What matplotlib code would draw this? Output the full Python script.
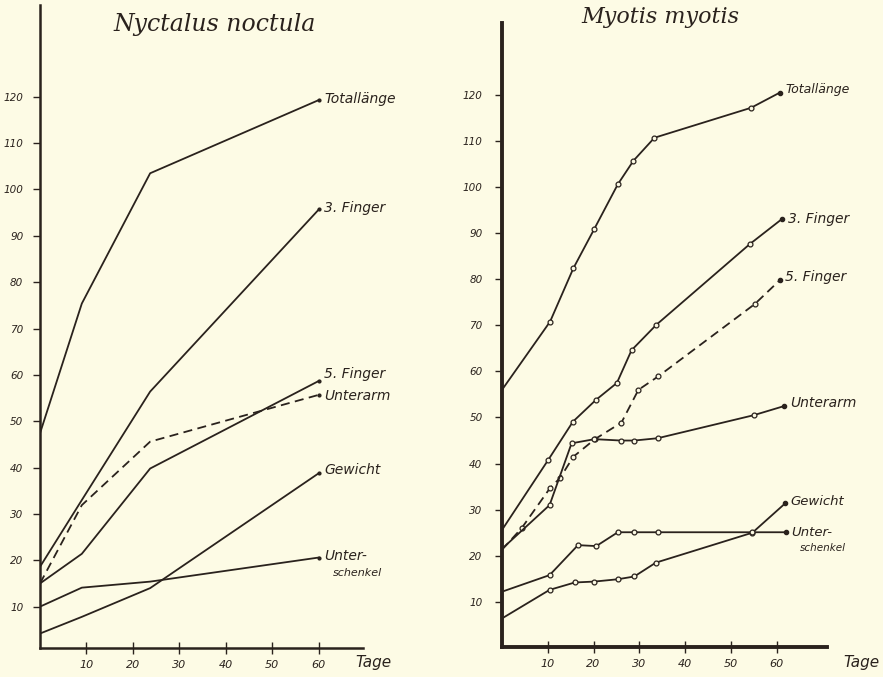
import matplotlib
matplotlib.use("Agg")
import matplotlib.pyplot as plt

# ---------------- data ----------------
# Nyctalus noctula (left panel)
nyc_days = [0, 9, 23.7, 60]
nyc_totallaenge = [47.4, 75.4, 103.5, 119.3]
nyc_finger3 = [18.6, 33.0, 56.4, 95.7]
nyc_finger5 = [15.0, 21.4, 39.8, 58.7]
nyc_unterarm = [15.0, 31.9, 45.6, 55.7]
nyc_gewicht = [4.2, 7.8, 14.0, 38.8]
nyc_unterschenkel = [10.0, 14.1, 15.4, 20.6]

# Myotis myotis (right panel)
myo_total_days = [0, 10.5, 15.6, 20.1, 25.3, 28.7, 33.3, 54.4, 60.7]
myo_totallaenge = [56.0, 70.8, 82.4, 90.8, 100.6, 105.7, 110.7, 117.2, 120.5]
myo_f3_days = [0, 10.1, 15.5, 20.5, 25.1, 28.3, 33.7, 54.1, 61.2]
myo_finger3 = [25.6, 40.8, 49.1, 53.8, 57.5, 64.6, 70.1, 87.6, 93.1]
myo_f5_days = [0, 4.3, 10.5, 12.7, 15.6, 20.3, 26.1, 29.8, 34.1, 55.2, 60.7]
myo_finger5 = [21.3, 26.0, 34.7, 36.9, 41.5, 45.3, 48.9, 56.0, 58.9, 74.6, 79.8]
myo_arm_days = [0, 10.4, 15.2, 20.2, 26.0, 28.9, 34.0, 55.0, 61.7]
myo_unterarm = [21.5, 31.0, 44.4, 45.3, 45.0, 45.0, 45.5, 50.5, 52.5]
myo_gew_days = [0, 10.4, 15.9, 20.2, 25.3, 28.9, 33.6, 54.7, 61.9]
myo_gewicht = [6.4, 12.6, 14.2, 14.4, 14.9, 15.5, 18.5, 25.0, 31.4]
myo_us_days = [0, 10.4, 16.6, 20.6, 25.3, 28.9, 34.0, 54.7, 62.0]
myo_unterschenkel = [12.2, 15.8, 22.3, 22.1, 25.1, 25.1, 25.1, 25.1, 25.1]

y_ticks = [10, 20, 30, 40, 50, 60, 70, 80, 90, 100, 110, 120]
x_ticks = [10, 20, 30, 40, 50, 60]

titles = ["Nyctalus noctula", "Myotis myotis"]

# ---------------- style ----------------
BG = "#fdfbe5"
INK = "#2a221d"
W, H = 883, 677

fig = plt.figure(figsize=(W / 100, H / 100), dpi=100, facecolor=BG)

def px_axes(x0, y_top, x1, y_bottom):
    return fig.add_axes([x0 / W, (H - y_bottom) / H, (x1 - x0) / W, (y_bottom - y_top) / H])

hand = dict(family="DejaVu Sans", style="italic", color=INK)
script = dict(family="DejaVu Serif", style="italic", color=INK)

def setup(ax, xlim, ylim, spine_w, ypad):
    ax.set_facecolor(BG)
    ax.patch.set_alpha(0)
    ax.set_xlim(*xlim)
    ax.set_ylim(*ylim)
    for s in ["top", "right"]:
        ax.spines[s].set_visible(False)
    for s in ["left", "bottom"]:
        ax.spines[s].set_color(INK)
        ax.spines[s].set_linewidth(spine_w)
    ax.set_yticks(y_ticks)
    ax.set_yticklabels([str(v) for v in y_ticks], fontsize=7.5, **hand)
    ax.set_xticks(x_ticks)
    ax.set_xticklabels([str(v) for v in x_ticks], fontsize=8, **hand)
    ax.tick_params(axis="y", direction="out", length=5, width=1, color=INK, pad=ypad)
    ax.tick_params(axis="x", direction="inout", length=9, width=1, color=INK, pad=4)

lw = 1.3

def label(ax, x, y, text, dy=0, fs=10):
    ax.annotate(text, xy=(x, y), xytext=(4, dy), textcoords="offset points",
                va="center", ha="left", fontsize=fs, **hand)

# ---------- left panel ----------
axL = px_axes(40, 5, 363, 648)
setup(axL, (0, 69.5), (1.08, 139.8), 1.8, 7)
for vals, ls in [(nyc_totallaenge, "-"), (nyc_finger3, "-"), (nyc_finger5, "-"),
                 (nyc_unterarm, (0, (5, 3))), (nyc_gewicht, "-"), (nyc_unterschenkel, "-")]:
    axL.plot(nyc_days, vals, color=INK, lw=lw, linestyle=ls)
    axL.plot(nyc_days[-1], vals[-1], "o", color=INK, ms=2)
label(axL, nyc_days[-1], nyc_totallaenge[-1], "Totallänge", dy=1)
label(axL, nyc_days[-1], nyc_finger3[-1], "3. Finger", dy=1)
label(axL, nyc_days[-1], nyc_finger5[-1], "5. Finger", dy=5)
label(axL, nyc_days[-1], nyc_unterarm[-1], "Unterarm", dy=-1)
label(axL, nyc_days[-1], nyc_gewicht[-1], "Gewicht", dy=2)
label(axL, nyc_days[-1], nyc_unterschenkel[-1], "Unter-", dy=1)
axL.annotate("schenkel", xy=(nyc_days[-1], nyc_unterschenkel[-1]), xytext=(10, -11),
             textcoords="offset points", va="center", ha="left", fontsize=8, **hand)
fig.text(355 / W, 1 - 663 / H, "Tage", fontsize=11, va="center", ha="left", **hand)
fig.text(215 / W, 1 - 25 / H, titles[0], fontsize=17, va="center", ha="center", **script)

# ---------- right panel ----------
axR = px_axes(502, 23, 827, 647)
setup(axR, (0, 71), (0.2, 135.6), 2.8, 9)
series_R = [(myo_total_days, myo_totallaenge, "-"), (myo_f3_days, myo_finger3, "-"),
            (myo_f5_days, myo_finger5, (0, (5, 3))), (myo_arm_days, myo_unterarm, "-"),
            (myo_gew_days, myo_gewicht, "-"), (myo_us_days, myo_unterschenkel, "-")]
for d, vals, ls in series_R:
    axR.plot(d, vals, color=INK, lw=lw, linestyle=ls)
    axR.plot(d[1:-1], vals[1:-1], "o", mfc=BG, mec=INK, mew=0.9, ms=3.5, linestyle="none")
    axR.plot(d[-1], vals[-1], "o", color=INK, ms=3)
label(axR, myo_total_days[-1], myo_totallaenge[-1], "Totallänge", dy=2, fs=9)
label(axR, myo_f3_days[-1], myo_finger3[-1], "3. Finger", dy=0)
label(axR, myo_f5_days[-1], myo_finger5[-1], "5. Finger", dy=2)
label(axR, myo_arm_days[-1], myo_unterarm[-1], "Unterarm", dy=2)
label(axR, myo_gew_days[-1], myo_gewicht[-1], "Gewicht", dy=1, fs=9.5)
label(axR, myo_us_days[-1], myo_unterschenkel[-1], "Unter-", dy=0, fs=9.5)
axR.annotate("schenkel", xy=(myo_us_days[-1], myo_unterschenkel[-1]), xytext=(10, -11),
             textcoords="offset points", va="center", ha="left", fontsize=7.5, **hand)
fig.text(843 / W, 1 - 663 / H, "Tage", fontsize=11, va="center", ha="left", **hand)
fig.text(660 / W, 1 - 17 / H, titles[1], fontsize=16, va="center", ha="center", **script)

fig.savefig("out.png", dpi=100, facecolor=BG)
